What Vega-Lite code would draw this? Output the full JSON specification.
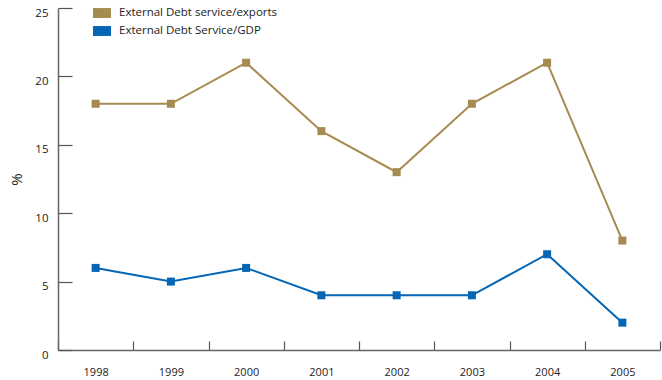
{
  "$schema": "https://vega.github.io/schema/vega-lite/v6.json",
  "width": 602,
  "height": 342,
  "autosize": {"type": "none"},
  "padding": {"left": 58, "top": 8, "right": 2, "bottom": 30},
  "config": {
    "view": {"stroke": null},
    "font": "Open Sans",
    "axis": {"labelFont": "Open Sans", "titleFont": "Open Sans", "labelColor": "#222", "titleColor": "#222", "domainColor": "#666", "tickColor": "#555", "domainWidth": 1.5, "tickWidth": 1.2, "grid": false}
  },
  "data": {
    "values": [
      {"year": "1998", "series": "External Debt service/exports", "value": 18},
      {"year": "1999", "series": "External Debt service/exports", "value": 18},
      {"year": "2000", "series": "External Debt service/exports", "value": 21},
      {"year": "2001", "series": "External Debt service/exports", "value": 16},
      {"year": "2002", "series": "External Debt service/exports", "value": 13},
      {"year": "2003", "series": "External Debt service/exports", "value": 18},
      {"year": "2004", "series": "External Debt service/exports", "value": 21},
      {"year": "2005", "series": "External Debt service/exports", "value": 8},
      {"year": "1998", "series": "External Debt Service/GDP", "value": 6},
      {"year": "1999", "series": "External Debt Service/GDP", "value": 5},
      {"year": "2000", "series": "External Debt Service/GDP", "value": 6},
      {"year": "2001", "series": "External Debt Service/GDP", "value": 4},
      {"year": "2002", "series": "External Debt Service/GDP", "value": 4},
      {"year": "2003", "series": "External Debt Service/GDP", "value": 4},
      {"year": "2004", "series": "External Debt Service/GDP", "value": 7},
      {"year": "2005", "series": "External Debt Service/GDP", "value": 2}
    ]
  },
  "encoding": {
    "x": {
      "field": "year", "type": "ordinal",
      "scale": {"type": "band", "paddingInner": 0, "paddingOuter": 0},
      "axis": {"title": null, "labelAngle": 0, "tickBand": "extent", "tickSize": -9, "labelPadding": 25, "labelFontSize": 11}
    },
    "y": {
      "field": "value", "type": "quantitative",
      "scale": {"domain": [0, 25], "nice": false},
      "axis": {"title": "%", "titleAngle": -90, "titleFontSize": 15, "titleFontWeight": "normal", "titlePadding": 10, "values": [0, 5, 10, 15, 20, 25], "tickSize": -14, "labelPadding": 24, "labelOffset": 5, "labelFontSize": 11.5}
    },
    "color": {
      "field": "series", "type": "nominal",
      "sort": ["External Debt service/exports", "External Debt Service/GDP"],
      "scale": {"domain": ["External Debt service/exports", "External Debt Service/GDP"], "range": ["#A68B51", "#0466B4"]},
      "legend": {"title": null, "orient": "none", "legendX": 35, "legendY": -4, "symbolType": "M-1,-0.55H1V0.55H-1Z", "symbolSize": 324, "symbolStrokeWidth": 0, "symbolOpacity": 1, "labelFontSize": 11.5, "labelFont": "Open Sans", "labelColor": "#222", "rowPadding": 3, "labelOffset": 8}
    }
  },
  "layer": [
    {"mark": {"type": "line", "strokeWidth": 2}},
    {"mark": {"type": "square", "size": 64, "opacity": 1, "filled": true}}
  ]
}
